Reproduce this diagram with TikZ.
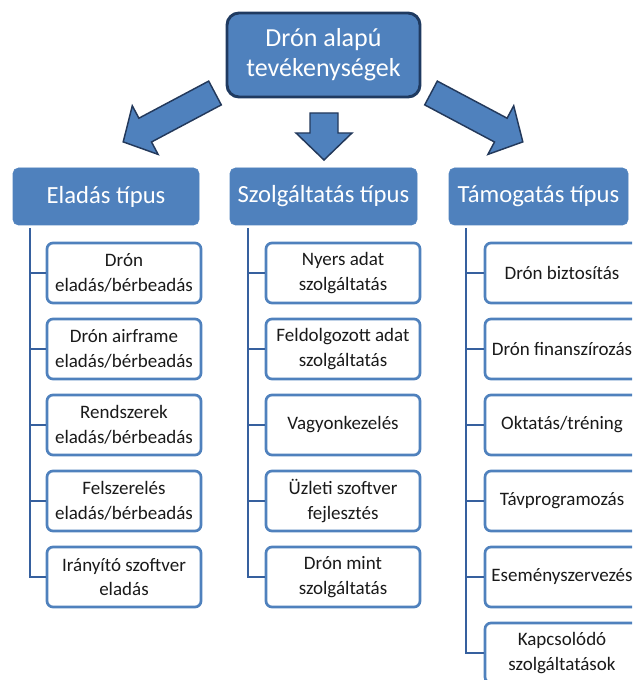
\documentclass[tikz,border=0pt]{standalone}
\usepackage{fontspec}
\setmainfont{Carlito}
\definecolor{hdr}{HTML}{4F81BD}
\definecolor{topborder}{HTML}{1F3A60}
\definecolor{arrowborder}{HTML}{23395B}
\definecolor{lineblue}{HTML}{36609E}
\definecolor{boxborder}{HTML}{4F81BD}
\definecolor{txt}{HTML}{1A1A1A}
\begin{document}
\begin{tikzpicture}[x=0.75pt,y=-0.75pt,
  topbox/.style={draw=topborder, line width=2.2pt, fill=hdr, rounded corners=9pt,
    minimum width=144.75pt, minimum height=63pt, text=white, align=center, inner sep=0pt,
    font=\fontsize{19.5}{22.5}\selectfont},
  hdrbox/.style={fill=hdr, draw=hdr, rounded corners=4pt, minimum height=42.75pt,
    text=white, inner sep=0pt, font=\fontsize{18.5}{22}\selectfont},
  child/.style={draw=boxborder, line width=2pt, fill=white, rounded corners=4.5pt,
    minimum width=115.5pt, minimum height=45pt, align=center, inner sep=0pt, text=txt,
    font=\fontsize{14.25}{18.4}\selectfont},
  conn/.style={draw=lineblue, line width=1.9pt},
  blockarrow/.style={fill=hdr, draw=arrowborder, line width=1.1pt, line join=miter}
]
\useasboundingbox (0,0) rectangle (632,680);
\clip (0,0) rectangle (632,680);

% top node
\node[topbox] (top) at (323.5,55) {Drón alapú\\tevékenységek};

% block arrows
\draw[blockarrow] (208.7,81.1) -- (138.9,118.2) -- (132.3,105.8) -- (123.2,141.9)
  -- (158.1,154.4) -- (151.5,142.0) -- (221.3,104.9) -- cycle;
\draw[blockarrow] (437.3,81.1) -- (507.1,118.2) -- (513.7,105.8) -- (522.8,141.9)
  -- (487.9,154.4) -- (494.5,142.0) -- (424.7,104.9) -- cycle;
\draw[blockarrow] (310,113) -- (338,113) -- (338,133) -- (352,133) -- (324,160)
  -- (296,133) -- (310,133) -- cycle;

% headers
\node[hdrbox, minimum width=139.5pt] (h1) at (106,196.5) {Eladás típus};
\node[hdrbox, minimum width=140.25pt] (h2) at (323.5,196.5) {Szolgáltatás típus};
\node[hdrbox, minimum width=134.25pt] (h3) at (538.5,196.5) {Támogatás típus};

% left column
\node[child] (l1) at (124,273) {Drón\\eladás/bérbeadás};
\node[child] (l2) at (124,349) {Drón airframe\\eladás/bérbeadás};
\node[child] (l3) at (124,425) {Rendszerek\\eladás/bérbeadás};
\node[child] (l4) at (124,501) {Felszerelés\\eladás/bérbeadás};
\node[child] (l5) at (124,577) {Irányító szoftver\\eladás};

% middle column
\node[child] (m1) at (343,273) {Nyers adat\\szolgáltatás};
\node[child] (m2) at (343,349) {Feldolgozott adat\\szolgáltatás};
\node[child] (m3) at (343,425) {Vagyonkezelés};
\node[child] (m4) at (343,501) {Üzleti szoftver\\fejlesztés};
\node[child] (m5) at (343,577) {Drón mint\\szolgáltatás};

% right column
\node[child] (r1) at (562,273) {Drón biztosítás};
\node[child] (r2) at (562,349) {Drón finanszírozás};
\node[child] (r3) at (562,425) {Oktatás/tréning};
\node[child] (r4) at (562,501) {Távprogramozás};
\node[child] (r5) at (562,577) {Eseményszervezés};
\node[child] (r6) at (562,653) {Kapcsolódó\\szolgáltatások};

% connectors
\coordinate (lc) at (30,228);
\coordinate (mc) at (248,228);
\coordinate (rc) at (466,228);
\draw[conn] (lc) |- (l5.west);
\foreach \i in {1,...,4} \draw[conn] (lc |- l\i.west) -- (l\i.west);
\draw[conn] (mc) |- (m5.west);
\foreach \i in {1,...,4} \draw[conn] (mc |- m\i.west) -- (m\i.west);
\draw[conn] (rc) |- (r6.west);
\foreach \i in {1,...,5} \draw[conn] (rc |- r\i.west) -- (r\i.west);
\end{tikzpicture}
\end{document}
